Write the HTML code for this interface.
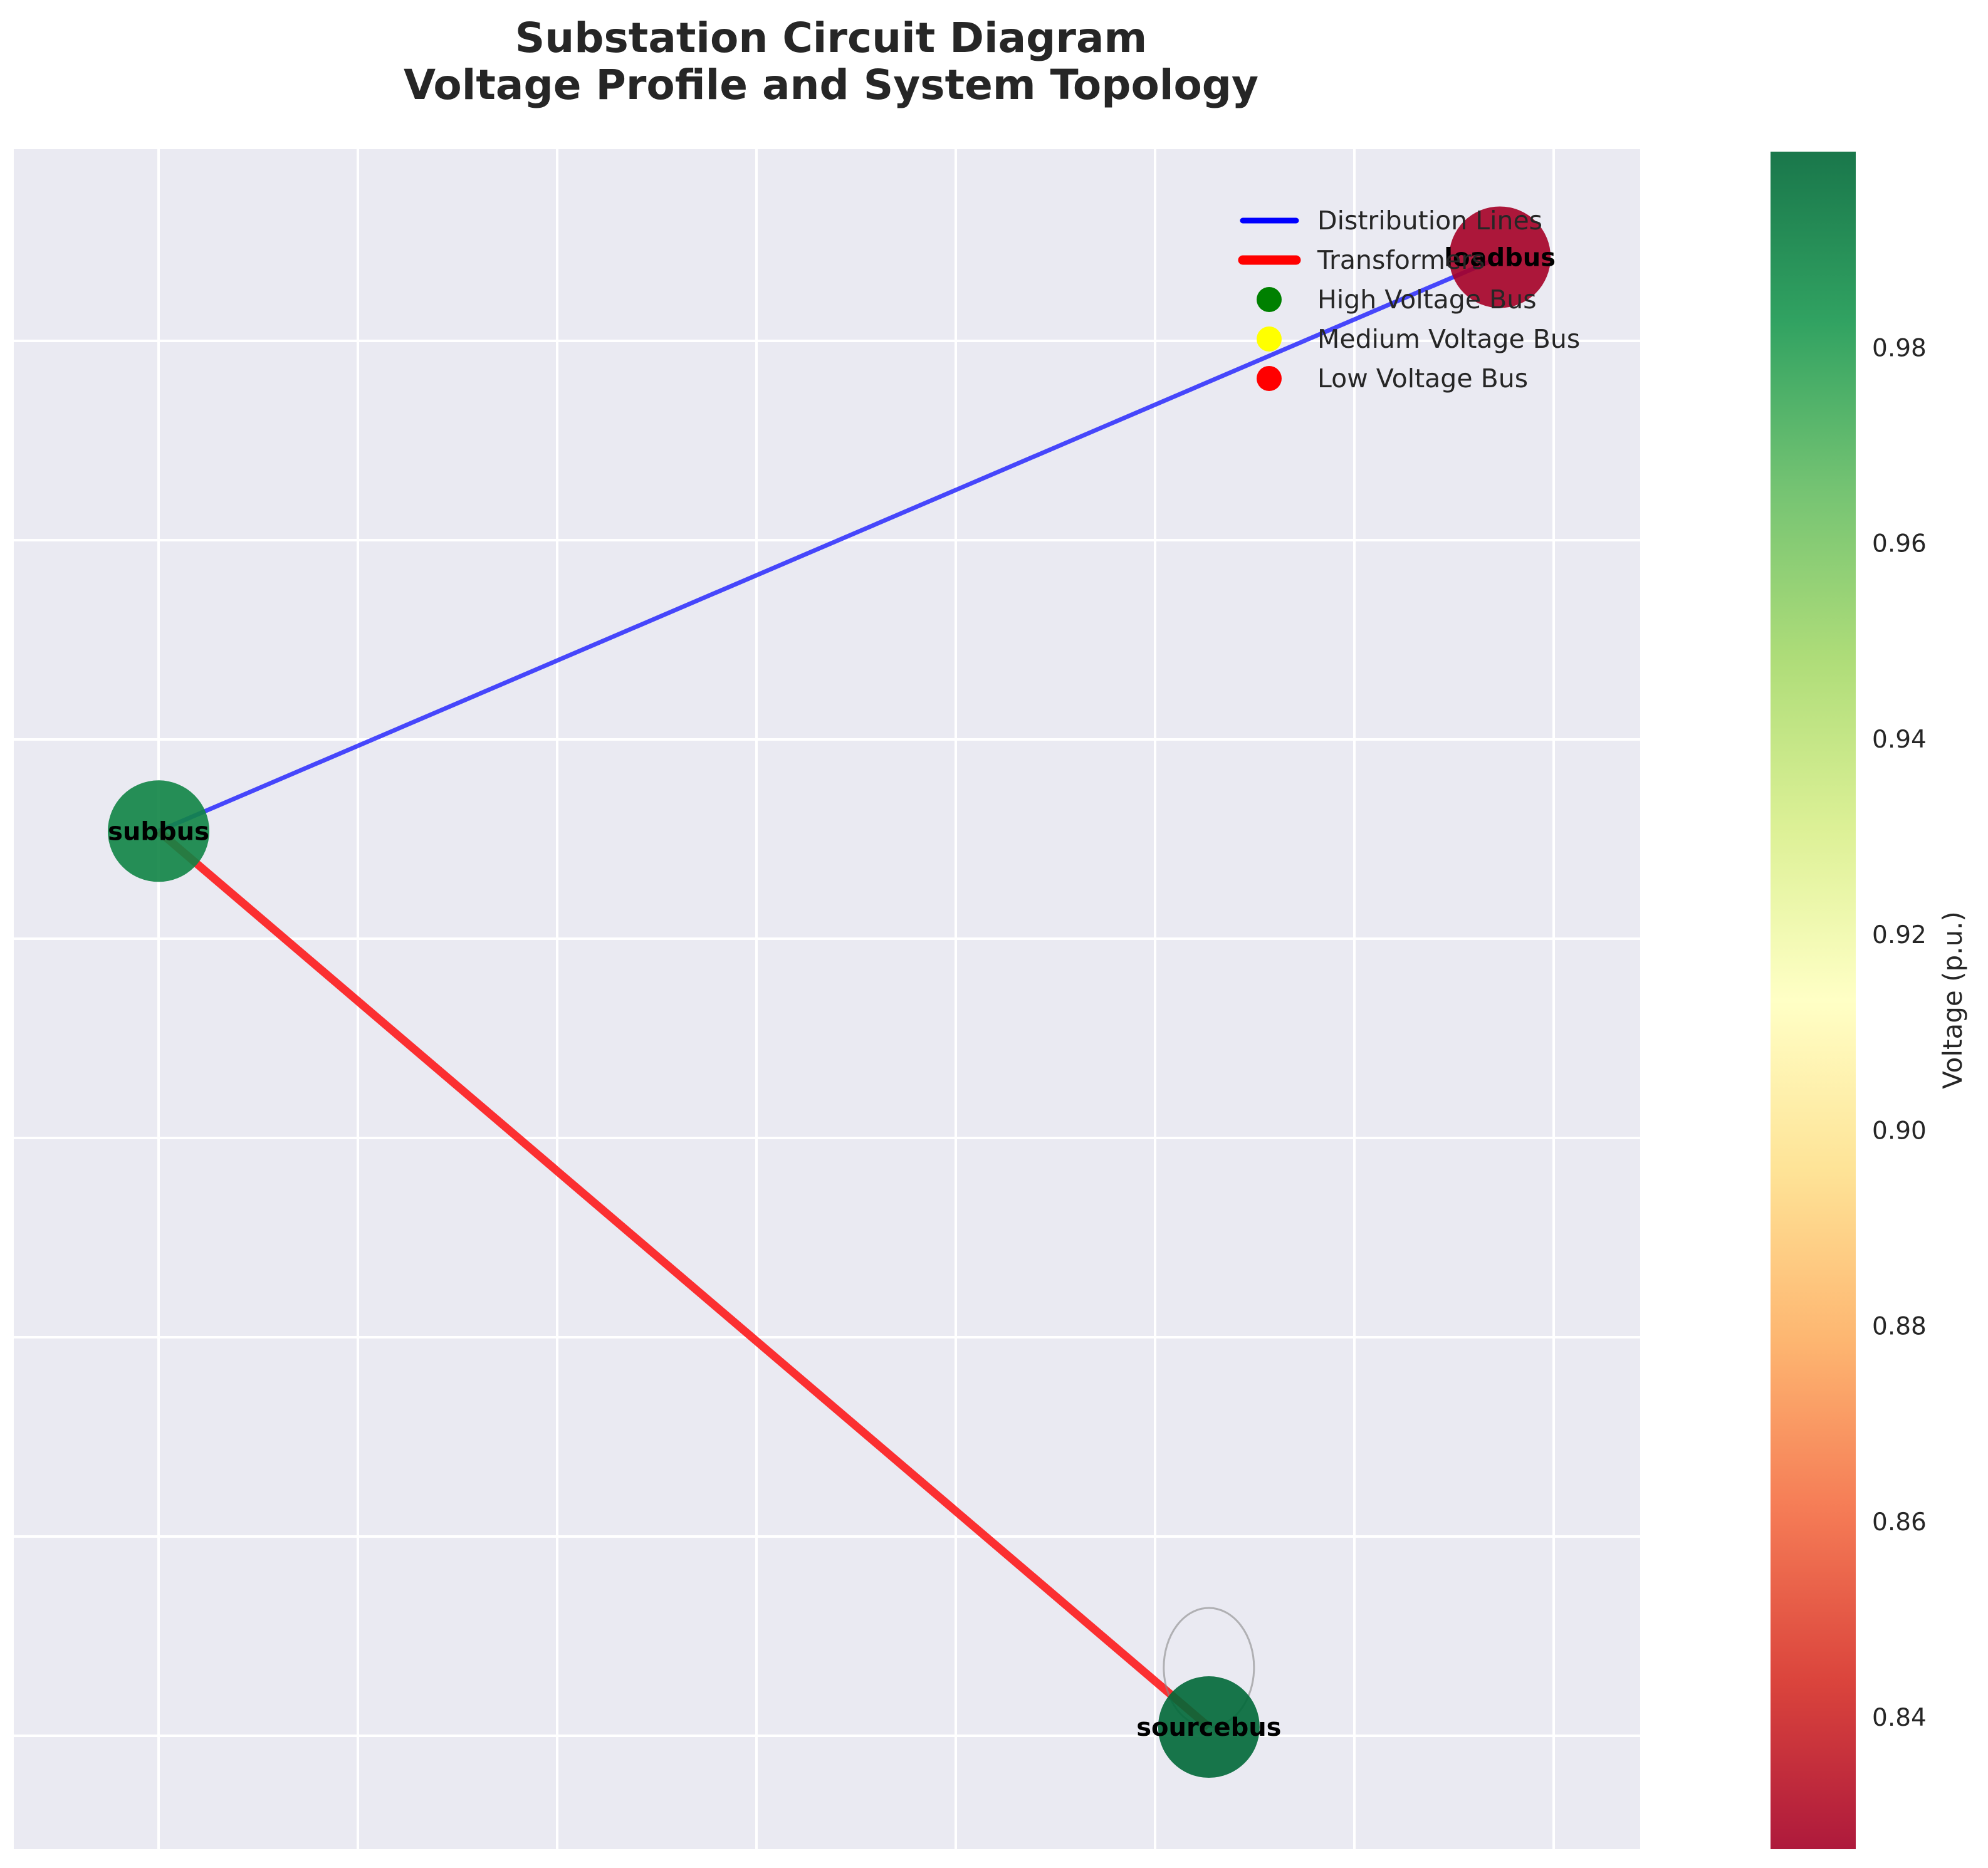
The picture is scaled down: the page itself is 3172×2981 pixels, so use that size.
<!DOCTYPE html>
<html><head><meta charset="utf-8"><style>
html,body{margin:0;padding:0;background:#fff;}
svg{display:block;font-family:"DejaVu Sans","Liberation Sans",sans-serif;}
</style></head><body>
<svg id="chart" width="3172" height="2981" viewBox="0 0 3172 2981" xmlns="http://www.w3.org/2000/svg">
<defs>
<linearGradient id="cmap" x1="0" y1="1" x2="0" y2="0">
<stop offset="0" stop-color="#a50026"/><stop offset="0.1" stop-color="#d73027"/><stop offset="0.2" stop-color="#f46d43"/><stop offset="0.3" stop-color="#fdae61"/><stop offset="0.4" stop-color="#fee08b"/><stop offset="0.5" stop-color="#ffffbf"/><stop offset="0.6" stop-color="#d9ef8b"/><stop offset="0.7" stop-color="#a6d96a"/><stop offset="0.8" stop-color="#66bd63"/><stop offset="0.9" stop-color="#1a9850"/><stop offset="1" stop-color="#006837"/>
</linearGradient>
<clipPath id="plotclip"><rect x="22" y="238" width="2595" height="2713"/></clipPath>
</defs>
<text x="1326" y="83" text-anchor="middle" font-size="66" font-weight="bold" fill="#262626">Substation Circuit Diagram</text>
<text x="1326" y="158" text-anchor="middle" font-size="66" font-weight="bold" fill="#262626">Voltage Profile and System Topology</text>
<rect x="22" y="238" width="2595" height="2713" fill="#eaeaf2"/>
<g id="grid"></g>
<g id="edges" clip-path="url(#plotclip)"></g>
<g id="nodes"></g>
<g id="legend"></g>
<rect x="2825" y="242" width="136" height="2709" fill="url(#cmap)" opacity="0.9"/>
<g id="cbticks"></g>
<text transform="translate(3130,1596) rotate(-90)" text-anchor="middle" font-size="42" fill="#262626">Voltage (p.u.)</text>
</svg>
<script>
const NS="http://www.w3.org/2000/svg";
const nodeNames=["sourcebus","subbus","loadbus"];
const nodeX=[5.27,0.0,6.73];
const nodeY=[0.044,4.54,7.42];
const nodeVoltage=[1.0,0.99,0.8265];
const edgeFrom=[1,1];
const edgeTo=[2,0];
const edgeType=["line","transformer"];
const gridTicks=[0,1,2,3,4,5,6,7];
const cbTicks=[0.84,0.86,0.88,0.90,0.92,0.94,0.96,0.98];
const vMin=0.8265, vMax=1.0;

const sx=v=>253+318*v;
const sy=v=>2770-318*v;
const cy=v=>2951-(v-vMin)/(vMax-vMin)*(2951-242);
const stops=["#a50026","#d73027","#f46d43","#fdae61","#fee08b","#ffffbf","#d9ef8b","#a6d96a","#66bd63","#1a9850","#006837"];
function hx(h){return [1,3,5].map(i=>parseInt(h.substr(i,2),16));}
function cmap(v){let t=Math.max(0,Math.min(1,(v-vMin)/(vMax-vMin)))*10;let i=Math.min(9,Math.floor(t));let f=t-i;let a=hx(stops[i]),b=hx(stops[i+1]);return "rgb("+a.map((c,k)=>Math.round(c+(b[k]-c)*f)).join(",")+")";}
function mk(tag,attrs,parent){const e=document.createElementNS(NS,tag);for(const k in attrs)e.setAttribute(k,attrs[k]);parent.appendChild(e);return e;}

const grid=document.getElementById('grid');
gridTicks.forEach(t=>{
 let l=mk('line',{x1:sx(t),x2:sx(t),y1:238,y2:2951,stroke:'#fff','stroke-width':4},grid);
 
 
 let h=mk('line',{x1:22,x2:2617,y1:sy(t),y2:sy(t),stroke:'#fff','stroke-width':4},grid);
 
 
});

const edges=document.getElementById('edges');
edgeFrom.forEach((f,i)=>{
 const t=edgeTo[i];const tr=edgeType[i]==="transformer";
 let l=mk('line',{x1:sx(nodeX[f]),y1:sy(nodeY[f]),x2:sx(nodeX[t]),y2:sy(nodeY[t]),stroke:tr?'red':'blue','stroke-width':tr?13:7,'stroke-opacity':tr?0.8:0.7},edges);
 
 
});
{
 const px=sx(nodeX[0]),py=sy(nodeY[0]);
 let p=mk('ellipse',{cx:px,cy:py-95,rx:72,ry:95,fill:'none',stroke:'#888','stroke-opacity':0.6,'stroke-width':3},edges);
 
 
}

const nodes=document.getElementById('nodes');
nodeNames.forEach((n,i)=>{
 let c=mk('circle',{cx:sx(nodeX[i]),cy:sy(nodeY[i]),r:81,fill:cmap(nodeVoltage[i]),'fill-opacity':0.9},nodes);
 
 
});
nodeNames.forEach((n,i)=>{
 let t=mk('text',{x:sx(nodeX[i]),y:sy(nodeY[i])+14,'text-anchor':'middle','font-size':40,'font-weight':'bold',fill:'#000'},nodes);
 t.textContent=n;
 
 
});

const lg=document.getElementById('legend');
const legLabels=["Distribution Lines","Transformers","High Voltage Bus","Medium Voltage Bus","Low Voltage Bus"];
const legRowsY=[352,415,478,541,604];
legLabels.forEach((lab,i)=>{
 const y=legRowsY[i];
 let m;
 if(i===0) m=mk('line',{x1:1983,x2:2068,y1:y,y2:y,stroke:'blue','stroke-width':9,'stroke-linecap':'round'},lg);
 else if(i===1) m=mk('line',{x1:1983,x2:2068,y1:y,y2:y,stroke:'red','stroke-width':15,'stroke-linecap':'round'},lg);
 else m=mk('circle',{cx:2025,cy:y,r:20,fill:['green','yellow','red'][i-2]},lg);
 
 
 let t=mk('text',{x:2102,y:y+14,'font-size':41,fill:'#262626'},lg);
 t.textContent=lab;
 
 
});

const cbt=document.getElementById('cbticks');
cbTicks.forEach(v=>{
 let t=mk('text',{x:2987,y:cy(v)+14,'font-size':39,fill:'#262626'},cbt);
 t.textContent=v.toFixed(2);
 
 
});
</script>
</body></html>
